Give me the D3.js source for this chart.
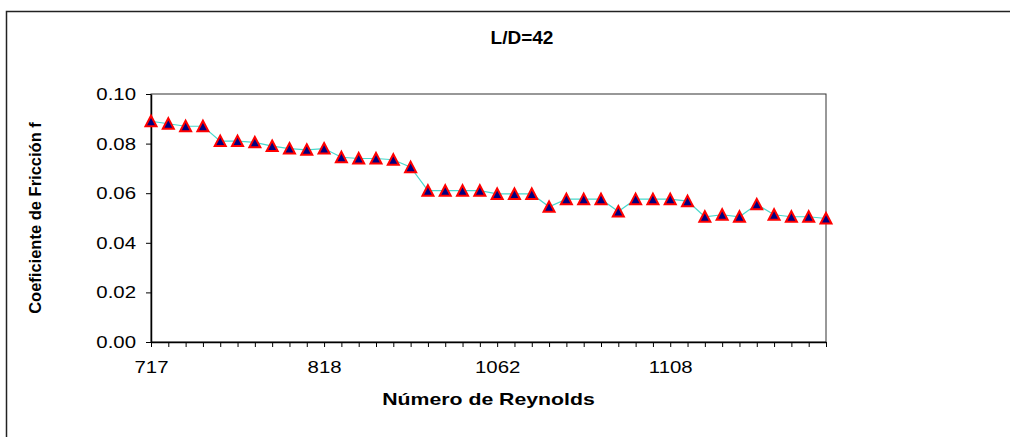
<!DOCTYPE html>
<html>
<head>
<meta charset="utf-8">
<script src="https://cdn.jsdelivr.net/npm/d3@7"></script>
<style>
  html, body { margin: 0; background: #fff; overflow: hidden; }
  svg { display: block; }
  text { font-family: "Liberation Sans", Arial, sans-serif; fill: #000; }
</style>
</head>
<body>
<div class="canvas"></div>
<script>
// data
const points = ["p1","p2","p3","p4","p5","p6","p7","p8","p9","p10",
                "p11","p12","p13","p14","p15","p16","p17","p18","p19","p20",
                "p21","p22","p23","p24","p25","p26","p27","p28","p29","p30",
                "p31","p32","p33","p34","p35","p36","p37","p38","p39","p40"];
const friction = [0.089, 0.088, 0.087, 0.087, 0.081, 0.081, 0.0805, 0.079, 0.078, 0.0775,
                  0.078, 0.0745, 0.074, 0.074, 0.0735, 0.0705, 0.061, 0.061, 0.061, 0.061,
                  0.0597, 0.0597, 0.0597, 0.0545, 0.0576, 0.0576, 0.0576, 0.0526, 0.0576, 0.0576,
                  0.0576, 0.0568, 0.0505, 0.0513, 0.0505, 0.0555, 0.0513, 0.0505, 0.0505, 0.0498];
const xTickPoints = ["p1", "p11", "p21", "p31"];
const xTickLabels = ["717", "818", "1062", "1108"];
const yTicks = [0, 0.02, 0.04, 0.06, 0.08, 0.10];

const width = 1010, height = 437;
const margin = {top: 94, right: 184, bottom: 95, left: 151};
const graphWidth = width - margin.left - margin.right;
const graphHeight = height - margin.top - margin.bottom;

const svg = d3.select(".canvas").append("svg")
    .attr("width", width)
    .attr("height", height);

// outer chart frame: only top and left edges are inside the picture
svg.append("path")
    .attr("d", `M${width + 20},11.5H6.5V${height + 20}`)
    .attr("fill", "none")
    .attr("stroke", "#222")
    .attr("stroke-width", 1.5);

const graph = svg.append("g")
    .attr("transform", `translate(${margin.left}, ${margin.top})`);

const x = d3.scalePoint().domain(points).range([0, graphWidth]);
const y = d3.scaleLinear().domain([0, 0.10]).range([graphHeight, 0]);

// plot area border
graph.append("rect")
    .attr("width", graphWidth).attr("height", graphHeight)
    .attr("fill", "none").attr("stroke", "#333").attr("stroke-width", 1);

const stretch = 1.2;

// axes
const labelFor = new Map(xTickPoints.map((p, i) => [p, xTickLabels[i]]));
const xAxis = d3.axisBottom(x).tickSize(5).tickSizeOuter(0)
    .tickFormat(d => labelFor.get(d) || "");
const yAxis = d3.axisLeft(y).tickValues(yTicks).tickSize(5).tickSizeOuter(0)
    .tickFormat(d3.format(".2f"));

const xg = graph.append("g")
    .attr("transform", `translate(0, ${graphHeight})`)
    .call(xAxis);
xg.selectAll("text")
    .attr("y", 19).attr("dy", "0.71em")
    .attr("transform", `scale(${stretch},1)`)
    .style("font-size", "17px");

const yg = graph.append("g").call(yAxis);
yg.selectAll("text")
    .attr("x", -15 / stretch)
    .attr("transform", `scale(${stretch},1)`)
    .style("font-size", "17px");

[xg, yg].forEach(g => {
  g.select(".domain").attr("stroke", "#000").attr("stroke-width", 1.5);
  g.selectAll(".tick line").attr("stroke", "#000");
});

// series line
const line = d3.line()
    .x((d, i) => x(points[i]))
    .y(d => y(d));
graph.append("path")
    .datum(friction)
    .attr("d", line)
    .attr("fill", "none")
    .attr("stroke", "#48d8cc")
    .attr("stroke-width", 1.2);

// triangle markers, centered on their box
const tri = "M0,-5.5L5.5,5L-5.5,5Z";
graph.selectAll(".marker")
    .data(friction)
    .enter()
    .append("path")
    .attr("class", "marker")
    .attr("d", tri)
    .attr("transform", (d, i) => `translate(${x(points[i])}, ${y(d)})`)
    .attr("fill", "#000080")
    .attr("stroke", "#ff0000")
    .attr("stroke-width", 2)
    .attr("stroke-linejoin", "miter");

// titles
svg.append("text")
    .attr("x", 522).attr("y", 44)
    .attr("text-anchor", "middle")
    .style("font-size", "19px").style("font-weight", "bold")
    .text("L/D=42");

svg.append("text")
    .attr("transform", `translate(${margin.left + graphWidth / 2}, 405) scale(1.25,1)`)
    .attr("text-anchor", "middle")
    .style("font-size", "17px").style("font-weight", "bold")
    .text("Número de Reynolds");

svg.append("text")
    .attr("transform", `translate(41, ${margin.top + graphHeight / 2}) rotate(-90)`)
    .attr("text-anchor", "middle")
    .style("font-size", "16.5px").style("font-weight", "bold")
    .text("Coeficiente de Fricción f");
</script>
</body>
</html>
